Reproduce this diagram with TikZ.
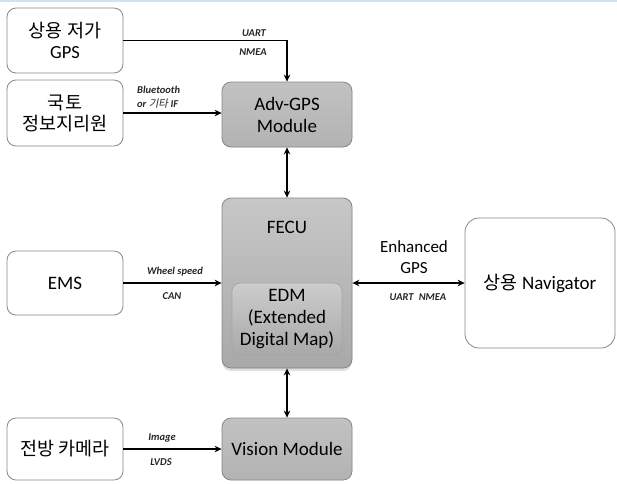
\documentclass[tikz,border=0pt]{standalone}
\usepackage{fontspec}
\setmainfont{Carlito}
\newfontfamily\kr{Noto Sans CJK KR}
\newfontfamily\krit[FakeSlant=0.2]{Noto Sans CJK KR}
\usetikzlibrary{arrows.meta,shadows}

\definecolor{boxgray}{RGB}{185,185,189}
\definecolor{boxedge}{RGB}{135,135,140}
\definecolor{topline}{RGB}{205,228,240}
\newcommand\boxfont{\fontsize{19}{22}\selectfont}
\newcommand\krfont{\kr\fontsize{18.5}{21}\selectfont}

\begin{document}
\begin{tikzpicture}[x=1pt,y=-1pt,
	wbox/.style={draw=boxedge, line width=0.8pt, rounded corners=9pt, fill=white,
		align=center, inner sep=0pt, font=\boxfont},
	gbox/.style={draw=boxedge, line width=0.8pt, rounded corners=9pt, fill=boxgray,
		align=center, inner sep=0pt, font=\boxfont},
	conn/.style={line width=1.3pt, -{Stealth[length=7pt,width=6.5pt]}},
	bconn/.style={line width=1.3pt, {Stealth[length=7pt,width=6.5pt]}-{Stealth[length=7pt,width=6.5pt]}},
	lbl/.style={font=\fontsize{10.5}{12}\selectfont\bfseries\itshape, text=black!85, inner sep=0pt}]
	\useasboundingbox (0,0) rectangle (617,483);
	\draw [topline, line width=1.5pt] (0,0.8) -- (617,0.8);
	% left column
	\node [wbox, font=\krfont, minimum width=116, minimum height=65] (gps) at (65,40.5)
		{상용 저가\\\rmfamily GPS};
	\node [wbox, font=\krfont, minimum width=116, minimum height=66] (geo) at (65,113) {국토\\정보지리원};
	\node [wbox, minimum width=116, minimum height=64] (ems) at (65,283) {EMS};
	\node [wbox, font=\krfont, minimum width=116, minimum height=62] (cam) at (65,449) {전방 카메라};
	% middle column
	\node [gbox, top color=black!24, bottom color=black!30, minimum width=130, minimum height=65] (adv) at (287,114.5) {Adv-GPS\\Module};
	\node [gbox, top color=black!22, bottom color=black!34, minimum width=130, minimum height=170,
		drop shadow={opacity=0.25, shadow xshift=0pt, shadow yshift=-3pt}] (fecu) at (287,283) {};
	\node [font=\boxfont] (fecut) at (287,227) {FECU};
	\node [gbox, draw=black!35, top color=black!20, bottom color=black!34, minimum width=110,
		minimum height=72, rounded corners=8pt] (edm) at (287,319) {EDM\\(Extended\\Digital Map)};
	\node [gbox, top color=black!24, bottom color=black!30, minimum width=130, minimum height=62] (vis) at (287,449) {Vision Module};
	% right
	\node [wbox, minimum width=150, minimum height=130, rounded corners=14pt] (nav) at (540,283)
		{{\krfont 상용} Navigator};
	% connectors
	\draw [conn] (gps.east) -- (gps.east -| adv.north) -- (adv.north);
	\node [lbl] (l1) at (254,33) {UART};
	\node [lbl] (l2) at (253,52) {NMEA};
	\draw [conn] (geo.east) -- (geo.east -| adv.west);
	\node [lbl, anchor=west] (l3) at (137,90) {Bluetooth};
	\node [lbl, anchor=west] (l4) at (137,104) {or {\krit\mdseries 기타} IF};
	\draw [bconn] (adv) -- (fecu);
	\draw [conn] (ems) -- (fecu);
	\node [lbl] (l5) at (175,272) {Wheel speed};
	\node [lbl] (l6) at (172,296) {CAN};
	\draw [bconn] (fecu) -- (nav);
	\node [font=\fontsize{17}{21}\selectfont, align=center, inner sep=0pt] (l7) at (414,257) {Enhanced\\GPS};
	\node [lbl] (l8) at (418,297) {UART\enspace NMEA};
	\draw [bconn] (fecu) -- (vis);
	\draw [conn] (cam) -- (vis);
	\node [lbl] (l9) at (162,438) {Image};
	\node [lbl] (l10) at (161,462) {LVDS};
\end{tikzpicture}
\end{document}
